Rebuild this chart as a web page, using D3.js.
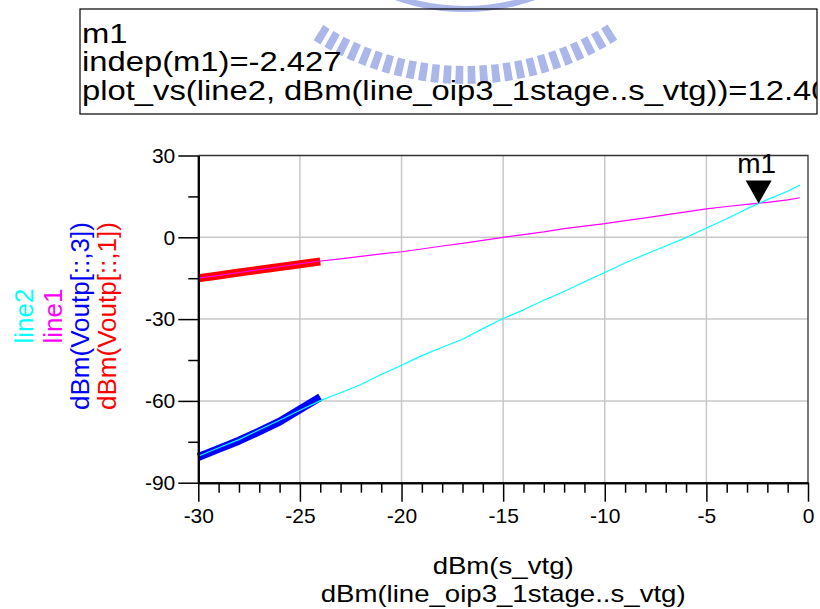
<!DOCTYPE html>
<html>
<head>
<meta charset="utf-8">
<script src="https://cdn.jsdelivr.net/npm/d3@7"></script>
<style>
  body { margin: 0; background: #fff; }
  svg { display: block; font-family: "Liberation Sans", Arial, sans-serif; }
</style>
</head>
<body>
<div id="chart"></div>
<script>
// Chart size
const width = 820, height = 609;

// Data
const lineX = [-30, -29, -28, -27, -26, -25, -24, -23, -22, -21, -20, -19, -18, -17, -16,
  -15, -14, -13, -12, -11, -10, -9, -8, -7, -6, -5, -4, -3, -2, -1, -0.4];
const line1Y = [-15.0, -14.0, -12.9, -11.9, -10.8, -9.7, -8.7, -7.9, -7.0, -6.1, -5.3, -4.3,
  -3.2, -2.2, -1.1, 0.0, 1.0, 2.0, 3.2, 4.1, 5.0, 6.1, 7.1, 8.2, 9.3, 10.4, 11.3, 12.1,
  12.8, 13.7, 14.5];
const line2Y = [-80.3, -77.2, -74.2, -70.6, -67.1, -63.4, -59.9, -57.0, -54.0, -50.3, -46.9,
  -43.4, -40.3, -37.4, -33.5, -29.8, -26.6, -23.1, -19.9, -16.3, -12.9, -9.4, -6.2, -3.2,
  -0.1, 3.4, 6.8, 10.5, 13.8, 16.9, 19.2];
const voutX = [-30, -29, -28, -27, -26, -25, -24];
const vout1Y = [-15.0, -14.0, -12.9, -11.9, -10.9, -9.9, -8.9];
const vout3Y = [-80.6, -77.6, -74.6, -71.2, -67.6, -63.1, -58.6];

const xMajor = [-30, -25, -20, -15, -10, -5, 0];
const xMinor = d3.range(-29, 0, 1).filter(v => v % 5 !== 0);
const yMajor = [-90, -60, -30, 0, 30];
const yMinor = [-75, -45, -15, 15];

const markerX = -2.427, markerY = 12.40;
const markerLines = ["m1", "indep(m1)=-2.427", "plot_vs(line2, dBm(line_oip3_1stage..s_vtg))=12.40"];
const legendLabels = ["line2", "line1", "dBm(Voutp[::,3])", "dBm(Voutp[::,1])"];
const legendColors = ["#00ffff", "#ff00ff", "#0000ff", "#ff0000"];
const xTitles = ["dBm(s_vtg)", "dBm(line_oip3_1stage..s_vtg)"];

const plot = {left: 198.3, right: 808, top: 155.5, bottom: 482.7};

const svg = d3.select("#chart").append("svg")
  .attr("width", width)
  .attr("height", height);

// Faint logo watermark at the top
const wm = svg.append("g").attr("transform", "translate(465,-200)")
  .attr("fill", "#7486dc").attr("opacity", 0.6);
wm.append("path")
  .attr("d", d3.arc().innerRadius(206).outerRadius(212)
    .startAngle(Math.PI * 0.85).endAngle(Math.PI * 1.15)());
d3.range(0.82, 1.18, 0.014).forEach(a => {
  wm.append("path")
    .attr("d", d3.arc().innerRadius(266).outerRadius(284)
      .startAngle(Math.PI * a).endAngle(Math.PI * a + 0.028)());
});

// Scales
const x = d3.scaleLinear().domain([-30, 0]).range([plot.left, plot.right]);
const y = d3.scaleLinear().domain([-90, 30]).range([plot.bottom, plot.top]);

// Gridlines
const grid = svg.append("g").attr("stroke", "#c8c8c8").attr("stroke-width", 1.5);
grid.selectAll(".gx").data(xMajor.slice(1, -1)).enter().append("line")
  .attr("x1", d => x(d)).attr("x2", d => x(d))
  .attr("y1", plot.top).attr("y2", plot.bottom);
grid.selectAll(".gy").data(yMajor.slice(1, -1)).enter().append("line")
  .attr("x1", plot.left).attr("x2", plot.right)
  .attr("y1", d => y(d)).attr("y2", d => y(d));

// Top and right frame
svg.append("path")
  .attr("d", `M${plot.left},${plot.top}H${plot.right}V${plot.bottom}`)
  .attr("fill", "none").attr("stroke", "#333").attr("stroke-width", 1.3);

// Traces
const line = d3.line().x(d => x(d[0])).y(d => y(d[1]));
function trace(xs, ys, color, w) {
  svg.append("path")
    .datum(xs.map((v, i) => [v, ys[i]]))
    .attr("d", line)
    .attr("fill", "none")
    .attr("stroke", color)
    .attr("stroke-width", w)
    .attr("stroke-linejoin", "round");
}
trace(voutX, vout1Y, "#ff0000", 8);
trace(voutX, vout3Y, "#0000ff", 8);
trace(lineX, line1Y, "#ff00ff", 1.2);
trace(lineX, line2Y, "#00ffff", 1.2);

// Axes
function styleAxis(g, w) {
  g.select(".domain").attr("stroke", "#000").attr("stroke-width", 2);
  g.selectAll(".tick line").attr("stroke", "#000").attr("stroke-width", w);
  g.selectAll("text").attr("font-size", 21).attr("fill", "#000")
    .attr("font-family", "'Liberation Sans', Arial, sans-serif");
}
svg.append("g").attr("transform", `translate(0,${plot.bottom})`)
  .call(d3.axisBottom(x).tickValues(xMinor).tickSize(10).tickSizeOuter(0).tickFormat(""))
  .call(g => styleAxis(g, 1.5));
svg.append("g").attr("transform", `translate(0,${plot.bottom})`)
  .call(d3.axisBottom(x).tickValues(xMajor).tickSize(19).tickSizeOuter(0).tickPadding(6)
    .tickFormat(d3.format("d")))
  .call(g => styleAxis(g, 1.5));
svg.append("g").attr("transform", `translate(${plot.left},0)`)
  .call(d3.axisLeft(y).tickValues(yMinor).tickSize(10).tickSizeOuter(0).tickFormat(""))
  .call(g => styleAxis(g, 1.5));
svg.append("g").attr("transform", `translate(${plot.left},0)`)
  .call(d3.axisLeft(y).tickValues(yMajor).tickSize(20).tickSizeOuter(0).tickPadding(3)
    .tickFormat(d3.format("d")))
  .call(g => styleAxis(g, 1.5));
// Hyphen-minus like the original
svg.selectAll(".tick text").text(function() { return this.textContent.replace("\u2212", "-"); });

// X-axis titles (slightly wide lettering, as in the original)
const xc = (plot.left + plot.right) / 2;
svg.append("g")
  .attr("transform", `translate(${xc},0) scale(1.2,1)`)
  .selectAll("text").data(xTitles).enter().append("text")
  .attr("x", 0)
  .attr("y", (d, i) => 574 + i * 28)
  .attr("text-anchor", "middle")
  .attr("font-size", 23)
  .text(d => d);

// Rotated legend titles on the left
const legendX = [33, 62, 89, 116];
svg.selectAll(".ltitle").data(legendLabels).enter().append("text")
  .attr("transform", (d, i) => `translate(${legendX[i]},316) rotate(-90)`)
  .attr("text-anchor", "middle")
  .attr("font-size", 26)
  .attr("fill", (d, i) => legendColors[i])
  .text(d => d);

// Marker m1
const mx = x(markerX), my = y(markerY);
svg.append("path")
  .attr("d", `M${mx},${my}l-13,-23h26z`)
  .attr("fill", "#000");
svg.append("text")
  .attr("x", mx - 2).attr("y", my - 30)
  .attr("text-anchor", "middle")
  .attr("font-size", 28)
  .text("m1");

// Marker readout box (text is clipped at the right edge, as in the original)
svg.append("clipPath").attr("id", "boxclip")
  .append("rect").attr("x", 80).attr("y", 9).attr("width", 737).attr("height", 105);
svg.append("rect")
  .attr("x", 80).attr("y", 9).attr("width", 737).attr("height", 105)
  .attr("fill", "none").attr("stroke", "#000").attr("stroke-width", 1.2);
const box = svg.append("g").attr("clip-path", "url(#boxclip)")
  .append("g").attr("transform", "translate(82,0) scale(1.17,1)");
box.selectAll("text").data(markerLines).enter().append("text")
  .attr("x", 0)
  .attr("y", (d, i) => 43 + i * 28.5)
  .attr("font-size", 28)
  .text(d => d);
</script>
</body>
</html>
